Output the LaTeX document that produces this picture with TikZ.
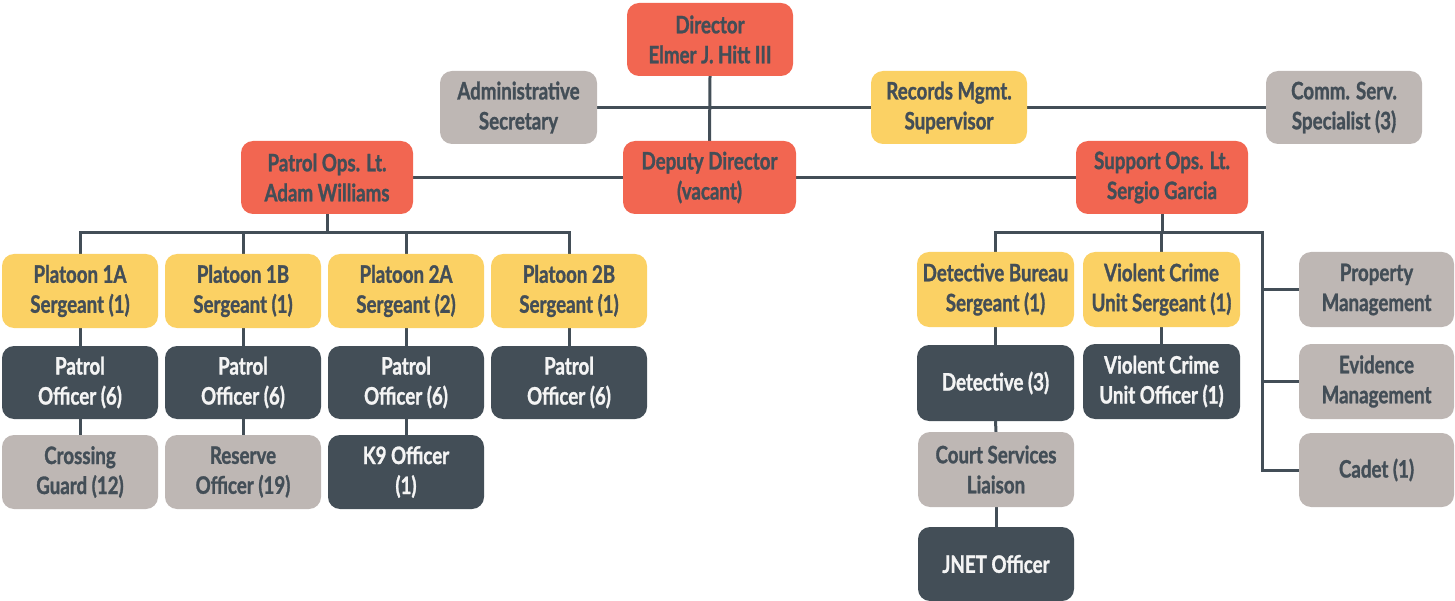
\documentclass[tikz,border=0pt]{standalone}
\usepackage{fontspec}
\setmainfont{Lato}[FakeStretch=0.78, BoldFeatures={FakeBold=1.2}]
\usetikzlibrary{backgrounds}
\definecolor{cred}{HTML}{F26651}
\definecolor{cyel}{HTML}{FBD164}
\definecolor{cgray}{HTML}{BEB7B4}
\definecolor{cdark}{HTML}{434E57}
\definecolor{cwhite}{HTML}{F4F4F4}
\tikzset{
  box/.style={rectangle, rounded corners=12pt, inner sep=0pt, align=center,
    font=\fontsize{24}{30}\selectfont\bfseries, text=cdark, minimum height=73pt},
  redbox/.style={box, fill=cred},
  yelbox/.style={box, fill=cyel},
  graybox/.style={box, fill=cgray},
  darkbox/.style={box, fill=cdark, text=cwhite},
  link/.style={draw=cdark, line width=3pt}
}
\begin{document}
\begin{tikzpicture}[x=1pt,y=-1pt]
\useasboundingbox (0,0) rectangle (1455,601);
% top
\node[redbox, minimum width=166pt] (dir) at (710,39.5) {Director\\Elmer J. Hitt III};
\node[graybox, minimum width=157pt] (admin) at (518.5,107.5) {Administrative\\Secretary};
\node[yelbox, minimum width=156pt] (rec) at (949,107.5) {Records Mgmt.\\Supervisor};
\node[graybox, minimum width=156pt] (comm) at (1344,107.5) {Comm. Serv.\\Specialist (3)};
\node[redbox, minimum width=173pt] (dep) at (709.5,177.5) {Deputy Director\\(vacant)};
\node[redbox, minimum width=172pt] (pat) at (327,177.5) {Patrol Ops. Lt.\\Adam Williams};
\node[redbox, minimum width=172pt] (sup) at (1162,177.5) {Support Ops. Lt.\\Sergio Garcia};
% patrol side
\node[yelbox, minimum width=156pt, minimum height=74pt] (p1a) at (80,291) {Platoon 1A\\Sergeant (1)};
\node[yelbox, minimum width=156pt, minimum height=74pt] (p1b) at (243,291) {Platoon 1B\\Sergeant (1)};
\node[yelbox, minimum width=156pt, minimum height=74pt] (p2a) at (406,291) {Platoon 2A\\Sergeant (2)};
\node[yelbox, minimum width=156pt, minimum height=74pt] (p2b) at (569,291) {Platoon 2B\\Sergeant (1)};
\node[darkbox, minimum width=156pt] (o1a) at (80,382.5) {Patrol\\Officer (6)};
\node[darkbox, minimum width=156pt] (o1b) at (243,382.5) {Patrol\\Officer (6)};
\node[darkbox, minimum width=156pt] (o2a) at (406,382.5) {Patrol\\Officer (6)};
\node[darkbox, minimum width=156pt] (o2b) at (569,382.5) {Patrol\\Officer (6)};
\node[graybox, minimum width=156pt, minimum height=74pt] (cg) at (80,472) {Crossing\\Guard (12)};
\node[graybox, minimum width=156pt, minimum height=74pt] (res) at (243,472) {Reserve\\Officer (19)};
\node[darkbox, minimum width=156pt, minimum height=74pt] (k9) at (406,472) {K9 Officer\\(1)};
% support side
\node[yelbox, minimum width=157pt, minimum height=75pt] (db) at (995.5,289.5) {Detective Bureau\\Sergeant (1)};
\node[yelbox, minimum width=157pt, minimum height=75pt] (vcs) at (1161.5,289.5) {Violent Crime\\Unit Sergeant (1)};
\node[darkbox, minimum width=157pt, minimum height=76pt] (det) at (995.5,383) {Detective (3)};
\node[darkbox, minimum width=157pt, minimum height=75pt] (vco) at (1161.5,381.5) {Violent Crime\\Unit Officer (1)};
\node[graybox, minimum width=156pt, minimum height=75pt] (court) at (996,469.5) {Court Services\\Liaison};
\node[darkbox, minimum width=156pt, minimum height=74pt] (jnet) at (996,564) {JNET Officer};
\node[graybox, minimum width=155pt, minimum height=75pt] (prop) at (1376.5,289.5) {Property\\Management};
\node[graybox, minimum width=155pt, minimum height=75pt] (evid) at (1376.5,381.5) {Evidence\\Management};
\node[graybox, minimum width=155pt, minimum height=74pt] (cadet) at (1376.5,470) {Cadet (1)};
\coordinate (pbus) at (0,233);
\coordinate (sbus) at (1262,233);
\begin{scope}[on background layer]
\draw[link] (admin.east) -- (comm.west);
\draw[link] (dir.south) -- (dep.north);
\draw[link] (pat.east) -- (sup.west);
% patrol tree
\draw[link] (pat.south) -- (pat.south |- pbus);
\draw[link] (p1a.north) -- (p1a.north |- pbus) -| (p2b.north);
\draw[link] (p1b.north) -- (p1b.north |- pbus);
\draw[link] (p2a.north) -- (p2a.north |- pbus);
\draw[link] (p1a.south) -- (o1a.north);
\draw[link] (p1b.south) -- (o1b.north);
\draw[link] (p2a.south) -- (o2a.north);
\draw[link] (p2b.south) -- (o2b.north);
\draw[link] (o1a.south) -- (cg.north);
\draw[link] (o1b.south) -- (res.north);
\draw[link] (o2a.south) -- (k9.north);
% support tree
\draw[link] (sup.south) -- (sup.south |- sbus);
\draw[link] (db.north) |- (sbus) |- (cadet.west);
\draw[link] (vcs.north) -- (vcs.north |- sbus);
\draw[link] (sbus |- prop.west) -- (prop.west);
\draw[link] (sbus |- evid.west) -- (evid.west);
\draw[link] (db.south) -- (det.north);
\draw[link] (det.south) -- (court.north);
\draw[link] (court.south) -- (jnet.north);
\draw[link] (vcs.south) -- (vco.north);
\end{scope}
\end{tikzpicture}
\end{document}
